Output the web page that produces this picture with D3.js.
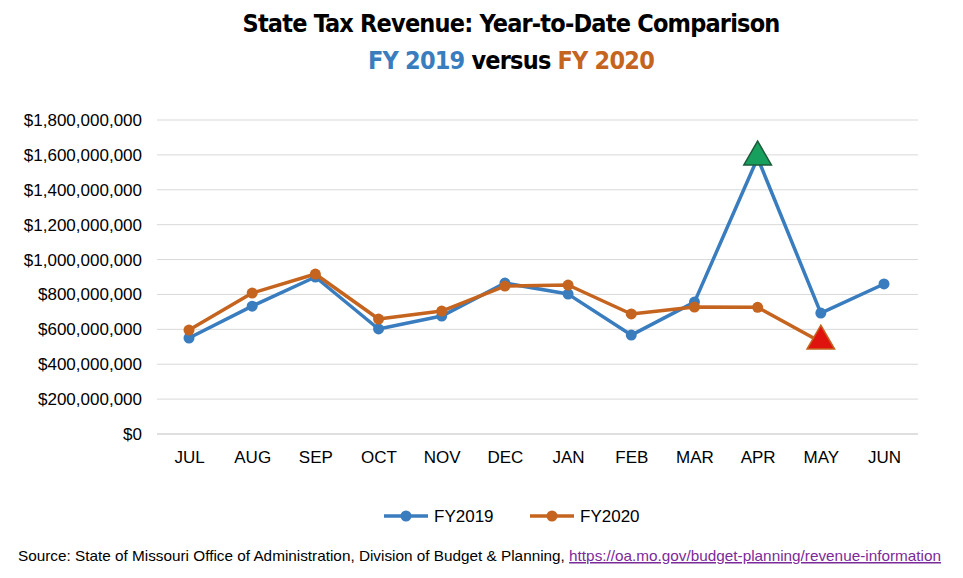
<!DOCTYPE html>
<html><head><meta charset="utf-8">
<script src="https://cdn.jsdelivr.net/npm/d3@7"></script>
<style>body{margin:0;background:#fff}</style>
</head><body><div id="chart"></div>
<script>
// data
var months = ["JUL","AUG","SEP","OCT","NOV","DEC","JAN","FEB","MAR","APR","MAY","JUN"];
var fy2019 = [550e6,733e6,900e6,602e6,676e6,865e6,802e6,567e6,756e6,1582e6,693e6,860e6];
var fy2020 = [596e6,808e6,917e6,659e6,705e6,848e6,854e6,688e6,728e6,726e6,527e6];
var yTicks = [0,2e8,4e8,6e8,8e8,1e9,1.2e9,1.4e9,1.6e9,1.8e9];

var W = 963, H = 578;
var blue = "#3a7dbf", orange = "#c5641f";
var svg = d3.select("#chart").append("svg").attr("width", W).attr("height", H);

var x = d3.scalePoint().domain(months).range([189, 884]);
var y = d3.scaleLinear().domain([0, 1.8e9]).range([434, 120]);
var fmt = function (v) { return "$" + d3.format(",")(v); };

// gridlines
svg.append("g").selectAll("line").data(yTicks).enter().append("line")
    .attr("x1", 157).attr("x2", 918)
    .attr("y1", function (d) { return y(d); }).attr("y2", function (d) { return y(d); })
    .attr("stroke", function (d) { return d === 0 ? "#bfbfbf" : "#d9d9d9"; });

var yAxis = svg.append("g").attr("transform", "translate(145,0)")
    .call(d3.axisLeft(y).tickValues(yTicks).tickFormat(fmt).tickSize(0));
yAxis.select(".domain").remove();
yAxis.selectAll("text").attr("font-family", "Liberation Sans, Arial").attr("font-size", 17).attr("fill", "#000");

var xAxis = svg.append("g").attr("transform", "translate(0,448)")
    .call(d3.axisBottom(x).tickSize(0));
xAxis.select(".domain").remove();
xAxis.selectAll("text").attr("font-family", "Liberation Sans, Arial").attr("font-size", 17).attr("fill", "#000").attr("dy", "0.71em");

function series(vals, color, tri, triFill, triStroke) {
    var pts = vals.map(function (v, i) { return { m: months[i], v: v, i: i }; });
    var line = d3.line().x(function (d) { return x(d.m); }).y(function (d) { return y(d.v); });
    svg.append("path").datum(pts).attr("d", line).attr("fill", "none")
        .attr("stroke", color).attr("stroke-width", 3.5).attr("stroke-linejoin", "round");
    svg.append("g").selectAll("circle").data(pts.filter(function (d) { return d.i !== tri; })).enter()
        .append("circle")
        .attr("cx", function (d) { return x(d.m); })
        .attr("cy", function (d) { return y(d.v); }).attr("r", 5.5).attr("fill", color);
    svg.append("path").attr("d", d3.symbol(d3.symbolTriangle, 330)())
        .attr("transform", "translate(" + x(months[tri]) + "," + (y(vals[tri]) - 1) + ")")
        .attr("fill", triFill).attr("stroke", triStroke).attr("stroke-width", 1.5);
}
series(fy2019, blue, 9, "#17a05d", "#1d5a3a");
series(fy2020, orange, 10, "#e0140f", "#c5641f");

// title
var tf = "DejaVu Sans Condensed, Liberation Sans Narrow, sans-serif";
svg.append("text").attr("x", 511).attr("y", 32).attr("text-anchor", "middle")
    .attr("font-family", tf).attr("font-weight", "bold").attr("font-size", 25).attr("letter-spacing", -0.8)
    .text("State Tax Revenue: Year-to-Date Comparison");
var t2 = svg.append("text").attr("x", 511).attr("y", 69).attr("text-anchor", "middle")
    .attr("font-family", tf).attr("font-weight", "bold").attr("font-size", 25).attr("letter-spacing", -0.8);
t2.append("tspan").attr("fill", blue).text("FY 2019 ");
t2.append("tspan").attr("fill", "#000").text("versus ");
t2.append("tspan").attr("fill", orange).text("FY 2020");

// legend
[["FY2019", blue, 384], ["FY2020", orange, 530]].forEach(function (l) {
    svg.append("line").attr("x1", l[2]).attr("x2", l[2] + 44).attr("y1", 516).attr("y2", 516)
        .attr("stroke", l[1]).attr("stroke-width", 3.5);
    svg.append("circle").attr("cx", l[2] + 22).attr("cy", 516).attr("r", 5.5).attr("fill", l[1]);
    svg.append("text").attr("x", l[2] + 50).attr("y", 522).attr("font-family", "Liberation Sans, Arial")
        .attr("font-size", 17).text(l[0]);
});

// source
var s = svg.append("text").attr("x", 18).attr("y", 561).attr("font-family", "Liberation Sans Narrow, Liberation Sans, Arial")
    .attr("font-size", 15).attr("textLength", 923).attr("lengthAdjust", "spacingAndGlyphs");
s.append("tspan").text("Source: State of Missouri Office of Administration, Division of Budget & Planning, ");
s.append("tspan").attr("fill", "#7b2a9a").attr("text-decoration", "underline")
    .text("https://oa.mo.gov/budget-planning/revenue-information");
</script></body></html>
